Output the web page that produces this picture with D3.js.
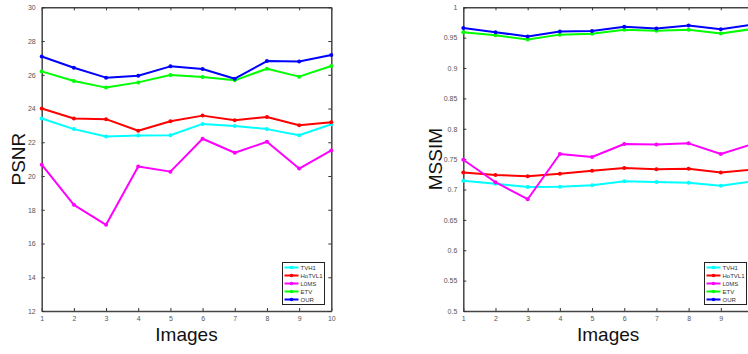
<!DOCTYPE html>
<html><head><meta charset="utf-8">
<script src="https://cdn.jsdelivr.net/npm/d3@7"></script>
<style>body{margin:0;background:#fff}svg{display:block}</style>
</head><body>
<svg id="c" width="748" height="354"></svg>
<script>
const images = [1,2,3,4,5,6,7,8,9,10];
const methods = ["TVH1","HoTVL1","L0MS","ETV","OUR"];
const colors = ["#00ffff","#ff0000","#ff00ff","#00ff00","#0000ff"];
const psnrTVH1   = [23.41,22.78,22.34,22.40,22.42,23.09,22.97,22.78,22.42,23.07];
const psnrHoTVL1 = [24.00,23.41,23.37,22.68,23.25,23.58,23.31,23.50,23.01,23.19];
const psnrL0MS   = [20.67,18.29,17.11,20.56,20.26,22.21,21.38,22.03,20.44,21.52];
const psnrETV    = [26.20,25.63,25.24,25.55,25.99,25.87,25.67,26.36,25.89,26.52];
const psnrOUR    = [27.08,26.42,25.83,25.94,26.50,26.34,25.77,26.81,26.79,27.17];
const ssimTVH1   = [0.7145,0.7096,0.7040,0.7045,0.7070,0.7135,0.7124,0.7112,0.7063,0.7135];
const ssimHoTVL1 = [0.7280,0.7240,0.7220,0.7258,0.7310,0.7354,0.7333,0.7340,0.7280,0.7330];
const ssimL0MS   = [0.7490,0.7120,0.6840,0.7585,0.7535,0.7750,0.7740,0.7760,0.7585,0.7750];
const ssimETV    = [0.9590,0.9540,0.9470,0.9550,0.9566,0.9630,0.9615,0.9630,0.9570,0.9644];
const ssimOUR    = [0.9660,0.9590,0.9520,0.9600,0.9610,0.9680,0.9650,0.9700,0.9640,0.9715];
const psnrTicks = [12,14,16,18,20,22,24,26,28,30];
const ssimTicks = [0.5,0.55,0.6,0.65,0.7,0.75,0.8,0.85,0.9,0.95,1];

const svg = d3.select("#c");
const axisCol = "#333";
const W = 748;

function panel(x0, x1, yDomain, ticks, series, ylabel, ylabelX, legendX) {
  const top = 7.3, bottom = 311;
  const x = d3.scaleLinear().domain([1,10]).range([x0,x1]);
  const y = d3.scaleLinear().domain(yDomain).range([bottom, top]);
  const g = svg.append("g");
  const fmt = d => String(+d.toFixed(2));
  const xfmt = d => (x(d) + 4 > W ? "" : String(d));
  const style = (sel) => {
    sel.select(".domain").attr("stroke", "#444").attr("stroke-width", 1.5);
    sel.selectAll(".tick line").attr("stroke", axisCol).attr("stroke-width", 1);
    sel.selectAll(".tick text").attr("fill", "#555").attr("font-size", "7px")
      .attr("font-family", "Liberation Sans, Arial, sans-serif");
  };
  g.append("g").attr("transform", `translate(0,${bottom})`)
    .call(d3.axisBottom(x).tickValues(images).tickFormat(xfmt).tickSizeInner(-3).tickSizeOuter(0).tickPadding(5)).call(style);
  g.append("g").attr("transform", `translate(0,${top})`)
    .call(d3.axisTop(x).tickValues(images).tickSizeInner(-3).tickSizeOuter(0).tickFormat("")).call(style);
  g.append("g").attr("transform", `translate(${x0},0)`)
    .call(d3.axisLeft(y).tickValues(ticks).tickFormat(fmt).tickSizeInner(-3).tickSizeOuter(0).tickPadding(6)).call(style);
  g.append("g").attr("transform", `translate(${x1},0)`)
    .call(d3.axisRight(y).tickValues(ticks).tickSizeInner(-3).tickSizeOuter(0).tickFormat("")).call(style);

  const line = d3.line().x((d,i) => x(images[i])).y(d => y(d));
  series.forEach((s, k) => {
    g.append("path").datum(s).attr("d", line).attr("fill", "none")
      .attr("stroke", colors[k]).attr("stroke-width", 2).attr("stroke-linejoin", "round");
    g.selectAll(null).data(s).enter().append("circle")
      .attr("cx", (d,i) => x(images[i])).attr("cy", d => y(d)).attr("r", 2).attr("fill", colors[k]);
  });

  svg.append("text").attr("transform", `translate(${ylabelX},${(top+bottom)/2}) rotate(-90)`)
    .attr("text-anchor", "middle").attr("font-size", "19px").attr("fill", "#111")
    .attr("font-family", "Liberation Sans, Arial, sans-serif").text(ylabel);
  svg.append("text").attr("x", (x0 + x1) / 2).attr("y", 341)
    .attr("text-anchor", "middle").attr("font-size", "19px").attr("fill", "#111")
    .attr("font-family", "Liberation Sans, Arial, sans-serif").text("Images");

  const lg = svg.append("g").attr("transform", `translate(${legendX},262.5)`);
  lg.append("rect").attr("width", 42).attr("height", 42).attr("fill", "#fff")
    .attr("stroke", "#222").attr("stroke-width", 1);
  methods.forEach((m, k) => {
    const yy = 5 + k * 8;
    lg.append("line").attr("x1", 2).attr("x2", 16).attr("y1", yy).attr("y2", yy)
      .attr("stroke", colors[k]).attr("stroke-width", 2);
    lg.append("circle").attr("cx", 9).attr("cy", yy).attr("r", 1.8).attr("fill", colors[k]);
    lg.append("text").attr("x", 18).attr("y", yy + 2.2).attr("font-size", "6px")
      .attr("fill", "#333").attr("font-family", "Liberation Sans, Arial, sans-serif").text(m);
  });
}

panel(41.7, 331.3, [12,30], psnrTicks, [psnrTVH1,psnrHoTVL1,psnrL0MS,psnrETV,psnrOUR], "PSNR", 25, 282.5);
panel(463.3, 753, [0.5,1], ssimTicks, [ssimTVH1,ssimHoTVL1,ssimL0MS,ssimETV,ssimOUR], "MSSIM", 442, 704.5);
</script>
</body></html>
